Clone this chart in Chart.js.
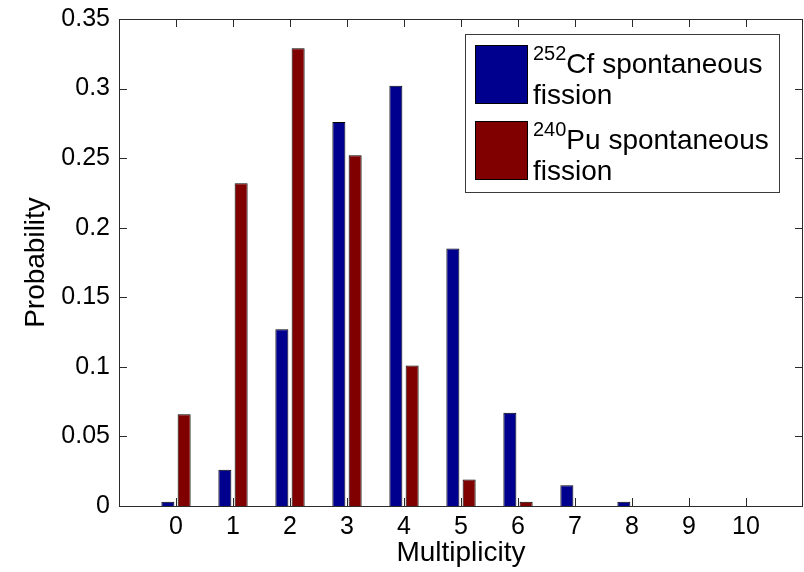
<!DOCTYPE html>
<html>
<head>
<meta charset="utf-8">
<script src="https://cdn.jsdelivr.net/npm/chart.js@4.4.1/dist/chart.umd.min.js"></script>
<style>
  html, body { margin: 0; padding: 0; background: #fff; }
  #wrap { width: 804px; height: 572px; }
</style>
</head>
<body>
<div id="wrap"><canvas id="chart" width="804" height="572"></canvas></div>
<script>
// =============================================================================
// DATA
// =============================================================================

const multiplicity = [0, 1, 2, 3, 4, 5, 6, 7, 8, 9, 10];
const cfProb = [0.003, 0.026, 0.127, 0.276, 0.302, 0.185, 0.067, 0.015, 0.003, 0, 0];
const puProb = [0.066, 0.232, 0.329, 0.252, 0.101, 0.019, 0.003, 0, 0, 0, 0];
const yTicks = [0, 0.05, 0.1, 0.15, 0.2, 0.25, 0.3, 0.35];

// legend: mass number (superscript), element + text, second line
const legendMass = ['252', '240'];
const legendLine1 = ['Cf spontaneous', 'Pu spontaneous'];
const legendLine2 = ['fission', 'fission'];

const FONT = '"Liberation Sans", Arial, Helvetica, sans-serif';
const BLUE = '#00008f';
const RED = '#800000';

const toPoints = (vals) => vals.map((v, i) => ({ x: multiplicity[i], y: v }));

// =============================================================================
// PLUGIN: axes box, inward ticks, MATLAB-style legend
// =============================================================================

const matlabAxes = {
  id: 'matlabAxes',
  afterDatasetsDraw(chart) {
    const { ctx, chartArea: a, scales } = chart;
    const tl = 8;
    ctx.save();
    ctx.strokeStyle = '#2b2b2b';
    ctx.lineWidth = 1;
    ctx.beginPath();
    scales.x.ticks.forEach(t => {
      const px = Math.round(scales.x.getPixelForValue(t.value)) + 0.5;
      ctx.moveTo(px, a.bottom); ctx.lineTo(px, a.bottom - tl);
      ctx.moveTo(px, a.top); ctx.lineTo(px, a.top + tl);
    });
    scales.y.ticks.forEach(t => {
      const py = Math.round(scales.y.getPixelForValue(t.value)) + 0.5;
      ctx.moveTo(a.left, py); ctx.lineTo(a.left + tl, py);
      ctx.moveTo(a.right, py); ctx.lineTo(a.right - tl, py);
    });
    ctx.stroke();
    ctx.strokeRect(Math.round(a.left) + 0.5, Math.round(a.top) + 0.5,
      Math.round(a.right - a.left) - 1, Math.round(a.bottom - a.top));
    ctx.restore();
  },
  afterDraw(chart) {
    const { ctx } = chart;
    const box = { x: 465.5, y: 34.5, w: 314, h: 158 };
    ctx.save();
    ctx.fillStyle = '#fff';
    ctx.fillRect(box.x, box.y, box.w, box.h);
    ctx.strokeStyle = '#3a3a3a';
    ctx.lineWidth = 1;
    ctx.strokeRect(box.x, box.y, box.w, box.h);
    chart.data.datasets.forEach((ds, i) => {
      const dy = i * 76;
      ctx.fillStyle = ds.backgroundColor;
      ctx.fillRect(475, 45 + dy, 53, 59);
      ctx.strokeStyle = '#000';
      ctx.strokeRect(475.5, 45.5 + dy, 52, 58);
      ctx.fillStyle = '#000';
      ctx.textBaseline = 'alphabetic';
      ctx.textAlign = 'left';
      ctx.font = '20px ' + FONT;
      ctx.fillText(legendMass[i], 533, 59.5 + dy);
      const w = ctx.measureText(legendMass[i]).width;
      ctx.font = '28px ' + FONT;
      ctx.fillText(legendLine1[i], 533 + w, 73 + dy);
      ctx.fillText(legendLine2[i], 533, 103.5 + dy);
    });
    ctx.restore();
  }
};

// =============================================================================
// CHART
// =============================================================================

new Chart(document.getElementById('chart').getContext('2d'), {
  type: 'bar',
  data: {
    datasets: [
      {
        label: '252Cf spontaneous fission',
        data: toPoints(cfProb),
        backgroundColor: BLUE,
        borderColor: '#000',
        borderWidth: 1,
        categoryPercentage: 0.571,
        barPercentage: 0.8
      },
      {
        label: '240Pu spontaneous fission',
        data: toPoints(puProb),
        backgroundColor: RED,
        borderColor: '#000',
        borderWidth: 1,
        categoryPercentage: 0.571,
        barPercentage: 0.8
      }
    ]
  },
  options: {
    responsive: false,
    animation: false,
    layout: { padding: { top: 19, right: 1, left: 0, bottom: 0 } },
    plugins: {
      legend: { display: false },
      tooltip: { enabled: false }
    },
    scales: {
      x: {
        type: 'linear',
        min: -1,
        max: 11,
        offset: false,
        grid: { display: false, drawTicks: false },
        border: { display: false },
        afterBuildTicks: (scale) => { scale.ticks = multiplicity.map(v => ({ value: v })); },
        afterFit: (scale) => {
          scale.height = 66;
          scale.paddingLeft = 0;
          scale.paddingRight = 0;
        },
        ticks: {
          color: '#000',
          font: { family: FONT, size: 25 },
          padding: 6,
          maxRotation: 0,
          autoSkip: false,
          callback: (v) => String(v)
        },
        title: {
          display: true,
          text: 'Multiplicity',
          color: '#000',
          font: { family: FONT, size: 28 },
          padding: { top: 0, bottom: 2 }
        }
      },
      y: {
        min: 0,
        max: 0.35,
        grid: { display: false, drawTicks: false },
        border: { display: false },
        afterBuildTicks: (scale) => { scale.ticks = yTicks.map(v => ({ value: v })); },
        afterFit: (scale) => {
          scale.width = 119;
          scale.paddingTop = 0;
          scale.paddingBottom = 0;
        },
        ticks: {
          color: '#000',
          font: { family: FONT, size: 25 },
          padding: 9,
          autoSkip: false,
          callback: (v) => String(+v.toFixed(2))
        },
        title: {
          display: true,
          text: 'Probability',
          color: '#000',
          font: { family: FONT, size: 28 },
          padding: { top: 19, bottom: 0 }
        }
      }
    }
  },
  plugins: [matlabAxes]
});
</script>
</body>
</html>
